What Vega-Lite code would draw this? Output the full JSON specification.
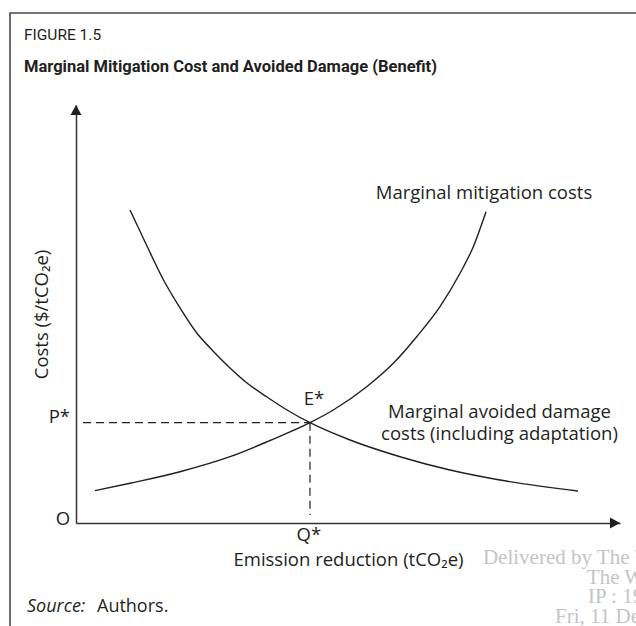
{
  "$schema": "https://vega.github.io/schema/vega-lite/v6.json",
  "width": 544,
  "height": 418,
  "autosize": {"type": "none"},
  "padding": {"left": 76, "top": 105, "right": 16, "bottom": 103},
  "background": "white",
  "config": {"view": {"stroke": null}},
  "datasets": {
    "curves": [
      {"curve": "damage", "x": 9.93, "y": 74.88},
      {"curve": "damage", "x": 12.87, "y": 66.75},
      {"curve": "damage", "x": 15.99, "y": 58.37},
      {"curve": "damage", "x": 19.12, "y": 51.44},
      {"curve": "damage", "x": 22.06, "y": 45.69},
      {"curve": "damage", "x": 25.18, "y": 41.15},
      {"curve": "damage", "x": 28.31, "y": 37.08},
      {"curve": "damage", "x": 31.43, "y": 33.49},
      {"curve": "damage", "x": 35.11, "y": 30.14},
      {"curve": "damage", "x": 38.79, "y": 27.03},
      {"curve": "damage", "x": 43.01, "y": 24.0},
      {"curve": "damage", "x": 50.37, "y": 19.86},
      {"curve": "damage", "x": 59.56, "y": 15.86},
      {"curve": "damage", "x": 68.75, "y": 12.68},
      {"curve": "damage", "x": 77.94, "y": 10.29},
      {"curve": "damage", "x": 92.28, "y": 7.66},
      {"curve": "mitigation", "x": 3.49, "y": 7.73},
      {"curve": "mitigation", "x": 9.93, "y": 9.5},
      {"curve": "mitigation", "x": 19.12, "y": 12.27},
      {"curve": "mitigation", "x": 28.31, "y": 15.86},
      {"curve": "mitigation", "x": 35.66, "y": 19.74},
      {"curve": "mitigation", "x": 43.01, "y": 24.0},
      {"curve": "mitigation", "x": 47.3, "y": 27.03},
      {"curve": "mitigation", "x": 53.44, "y": 32.61},
      {"curve": "mitigation", "x": 58.33, "y": 38.21},
      {"curve": "mitigation", "x": 62.63, "y": 44.57},
      {"curve": "mitigation", "x": 66.91, "y": 51.75},
      {"curve": "mitigation", "x": 70.59, "y": 59.74},
      {"curve": "mitigation", "x": 73.03, "y": 66.1},
      {"curve": "mitigation", "x": 75.37, "y": 74.47}
    ]
  },
  "layer": [
    {
      "data": {"values": [{"x": -12.13, "x2": 125, "y": 122.0, "y2": -40}]},
      "mark": {"type": "rect", "fillOpacity": 0, "stroke": "#4a4a4a", "strokeWidth": 1.6, "clip": false},
      "encoding": {
        "x": {"field": "x", "type": "quantitative", "scale": {"domain": [0, 100], "nice": false, "zero": false},
          "axis": {"orient": "bottom", "labels": false, "ticks": false, "grid": false, "domain": true, "domainColor": "#333333", "domainWidth": 1.5,
            "title": "Emission reduction (tCO₂e)", "titleFont": "Open Sans", "titleFontSize": 18.5, "titleFontWeight": "normal", "titleColor": "#231f20", "titleBaseline": "alphabetic", "titleY": 42.5}},
        "x2": {"field": "x2"},
        "y": {"field": "y", "type": "quantitative", "scale": {"domain": [0, 100], "nice": false, "zero": false},
          "axis": {"orient": "left", "labels": false, "ticks": false, "grid": false, "domain": true, "domainColor": "#333333", "domainWidth": 1.5,
            "title": "Costs ($/tCO₂e)", "titleFont": "Open Sans", "titleFontSize": 18.5, "titleFontWeight": "normal", "titleColor": "#231f20", "titleAngle": 270, "titleBaseline": "alphabetic", "titleAlign": "center", "titleX": -29}},
        "y2": {"field": "y2"}
      }
    },
    {
      "data": {"name": "curves"},
      "mark": {"type": "line", "interpolate": "monotone", "color": "#231f20", "strokeWidth": 1.4},
      "encoding": {
        "x": {"field": "x", "type": "quantitative"},
        "y": {"field": "y", "type": "quantitative"},
        "detail": {"field": "curve", "type": "nominal"}
      }
    },
    {
      "data": {"values": [
        {"x": 1.29, "x2": 43.01, "y": 24.0, "y2": 24.0},
        {"x": 43.01, "x2": 43.01, "y": 24.0, "y2": 1.91}
      ]},
      "mark": {"type": "rule", "color": "#231f20", "strokeWidth": 1.2, "strokeDash": [8, 5]},
      "encoding": {
        "x": {"field": "x", "type": "quantitative"},
        "x2": {"field": "x2"},
        "y": {"field": "y", "type": "quantitative"},
        "y2": {"field": "y2"}
      }
    },
    {
      "data": {"values": [{"x": 0, "y": 98.8}]},
      "mark": {"type": "point", "shape": "M-1.1,1L0,-1L1.1,1Z", "size": 100, "filled": true, "color": "#231f20", "opacity": 1, "clip": false},
      "encoding": {
        "x": {"field": "x", "type": "quantitative"},
        "y": {"field": "y", "type": "quantitative"}
      }
    },
    {
      "data": {"values": [{"x": 99.08, "y": 0}]},
      "mark": {"type": "point", "shape": "M-1,-1.1L1,0L-1,1.1Z", "size": 100, "filled": true, "color": "#231f20", "opacity": 1, "clip": false},
      "encoding": {
        "x": {"field": "x", "type": "quantitative"},
        "y": {"field": "y", "type": "quantitative"}
      }
    },
    {
      "data": {"values": [
        {"label": "Marginal mitigation costs", "x": 75.0, "y": 77.5},
        {"label": "Marginal avoided damage\ncosts (including adaptation)", "x": 77.85, "y": 25.1},
        {"label": "E*", "x": 43.75, "y": 28.2},
        {"label": "Q*", "x": 42.8, "y": -4.3}
      ]},
      "mark": {"type": "text", "font": "Open Sans", "fontSize": 18.5, "color": "#231f20", "align": "center", "baseline": "alphabetic", "lineBreak": "\n", "lineHeight": 22, "clip": false},
      "encoding": {
        "x": {"field": "x", "type": "quantitative"},
        "y": {"field": "y", "type": "quantitative"},
        "text": {"field": "label"}
      }
    },
    {
      "data": {"values": [
        {"label": "O", "x": -1.1, "y": -0.5},
        {"label": "P*", "x": -1.1, "y": 24.0}
      ]},
      "mark": {"type": "text", "font": "Open Sans", "fontSize": 18.5, "color": "#231f20", "align": "right", "baseline": "alphabetic", "clip": false},
      "encoding": {
        "x": {"field": "x", "type": "quantitative"},
        "y": {"field": "y", "type": "quantitative"},
        "text": {"field": "label"}
      }
    },
    {
      "data": {"values": [{"label": "FIGURE 1.5", "x": -9.56, "y": 115.6}]},
      "mark": {"type": "text", "font": "Roboto", "fontSize": 15.5, "color": "#231f20", "align": "left", "baseline": "alphabetic", "clip": false},
      "encoding": {
        "x": {"field": "x", "type": "quantitative"},
        "y": {"field": "y", "type": "quantitative"},
        "text": {"field": "label"}
      }
    },
    {
      "data": {"values": [{"label": "Marginal Mitigation Cost and Avoided Damage (Benefit)", "x": -9.56, "y": 107.9}]},
      "mark": {"type": "text", "font": "Roboto", "fontSize": 16.5, "fontWeight": "bold", "color": "#231f20", "align": "left", "baseline": "alphabetic", "clip": false},
      "encoding": {
        "x": {"field": "x", "type": "quantitative"},
        "y": {"field": "y", "type": "quantitative"},
        "text": {"field": "label"}
      }
    },
    {
      "data": {"values": [{"label": "Source:", "x": -9.0, "y": -21.3}]},
      "mark": {"type": "text", "font": "Open Sans", "fontSize": 18, "fontStyle": "italic", "color": "#231f20", "align": "left", "baseline": "alphabetic", "clip": false},
      "encoding": {
        "x": {"field": "x", "type": "quantitative"},
        "y": {"field": "y", "type": "quantitative"},
        "text": {"field": "label"}
      }
    },
    {
      "data": {"values": [{"label": "Authors.", "x": 3.86, "y": -21.3}]},
      "mark": {"type": "text", "font": "Open Sans", "fontSize": 18, "color": "#231f20", "align": "left", "baseline": "alphabetic", "clip": false},
      "encoding": {
        "x": {"field": "x", "type": "quantitative"},
        "y": {"field": "y", "type": "quantitative"},
        "text": {"field": "label"}
      }
    },
    {
      "data": {"values": [
        {"label": "Delivered by The World Bank e-library to:", "x": 74.8, "y": -9.8},
        {"label": "The World Bank", "x": 93.9, "y": -14.6},
        {"label": "IP : 192", "x": 94.1, "y": -19.1},
        {"label": "Fri, 11 Dec 2015", "x": 88.05, "y": -23.9}
      ]},
      "mark": {"type": "text", "font": "Liberation Serif", "fontSize": 21, "color": "#c4c4c4", "align": "left", "baseline": "alphabetic", "clip": false},
      "encoding": {
        "x": {"field": "x", "type": "quantitative"},
        "y": {"field": "y", "type": "quantitative"},
        "text": {"field": "label"}
      }
    }
  ]
}
